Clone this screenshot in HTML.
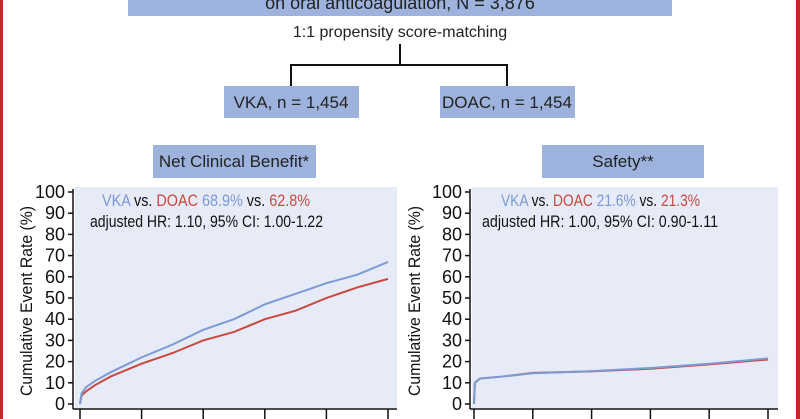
<!DOCTYPE html>
<html><head><meta charset="utf-8"><style>
body{margin:0;width:800px;height:419px;overflow:hidden;background:#fff;font-family:"Liberation Sans",sans-serif}
svg{display:block}
</style></head><body>
<svg width="800" height="419">
<rect x="0" y="0" width="3" height="419" fill="#c0272d"/>
<rect x="796" y="0" width="4" height="419" fill="#c0272d"/>
<g>
<rect x="128" y="-10" width="544" height="26" fill="#9db3de"/>
<text x="400" y="9" font-size="18" text-anchor="middle" fill="#222">on oral anticoagulation, N = 3,876</text>
<text x="400" y="37" font-size="16" text-anchor="middle" fill="#222">1:1 propensity score-matching</text>
<path d="M400 44V65M291 65H507M291 64V86M507 64V86" stroke="#111" stroke-width="2" fill="none"/>
<rect x="224" y="86" width="135" height="32" fill="#9db3de"/>
<text x="291" y="108" font-size="17" text-anchor="middle" fill="#222">VKA, n = 1,454</text>
<rect x="440" y="86" width="135" height="32" fill="#9db3de"/>
<text x="507" y="108" font-size="17" text-anchor="middle" fill="#222">DOAC, n = 1,454</text>
<rect x="153" y="145" width="163" height="33" fill="#9db3de"/>
<text x="234" y="167" font-size="17" text-anchor="middle" fill="#222">Net Clinical Benefit*</text>
<rect x="542" y="145" width="162" height="33" fill="#9db3de"/>
<text x="623" y="167" font-size="17" text-anchor="middle" fill="#222">Safety**</text>
</g>
<g id="charts"></g>
</svg>
<script>
const yTicks=[0,10,20,30,40,50,60,70,80,90,100];
const xTickCount=6;
const netTime=[0,0.005,0.02,0.05,0.1,0.2,0.3,0.4,0.5,0.6,0.7,0.8,0.9,1];
const netVKA=[0,5,8,11,15,22,28,35,40,47,52,57,61,67];
const netDOAC=[0,4,6,9,13,19,24,30,34,40,44,50,55,59];
const safeTime=[0,0.003,0.02,0.1,0.2,0.4,0.6,0.8,1];
const safeVKA=[0,10,12,13,14.5,15.5,17,19,21.5];
const safeDOAC=[0,10,12,13,14.7,15.4,16.6,18.7,21];
const NS="http://www.w3.org/2000/svg";
const root=document.getElementById('charts');
function mk(tag,attrs,parent){const e=document.createElementNS(NS,tag);for(const k in attrs)e.setAttribute(k,attrs[k]);parent.appendChild(e);return e;}
function chart(o){
 const g=mk('g',{},root);
 
 
 const y=v=>404-v*2.12, x=t=>o.x0+t*(o.x1-o.x0);
 const bg=mk('rect',{x:o.ax+2,y:187,width:o.bgR-o.ax-2,height:221,fill:'#e7ebf7'},g);
 
 
 const ax=mk('line',{x1:o.ax,x2:o.ax,y1:189,y2:409,stroke:'#111','stroke-width':1.5},g);
 
 
 yTicks.forEach(v=>{
  const t=mk('line',{x1:o.ax-5,x2:o.ax,y1:y(v),y2:y(v),stroke:'#111','stroke-width':1.5},g);
  
  
  const l=mk('text',{x:o.ax-8,y:y(v)+6,'font-size':18,'text-anchor':'end',fill:'#111'},g);
  l.textContent=v;
  
  
 });
 for(let i=0;i<xTickCount;i++){
  const t=mk('line',{x1:x(i/(xTickCount-1)),x2:x(i/(xTickCount-1)),y1:409,y2:419,stroke:'#111','stroke-width':1.5},g);
  
  
 }
 const xa=mk('line',{x1:o.ax,x2:o.bgR,y1:409,y2:409,stroke:'#111','stroke-width':1.5},g);
 
 
 const yl=mk('text',{transform:`translate(${o.ylx},301) rotate(-90)`,'font-size':17,'text-anchor':'middle',fill:'#111',textLength:190,lengthAdjust:'spacingAndGlyphs'},g);
 yl.textContent='Cumulative Event Rate (%)';
 
 
 [[o.doac,'#c9483f','doac-line'],[o.vka,'#7b9ad6','vka-line']].forEach(([vals,c,n])=>{
  const p=mk('polyline',{points:o.time.map((t,i)=>x(t)+','+y(vals[i])).join(' '),fill:'none',stroke:c,'stroke-width':2},g);
  
  
 });
 const t1=mk('text',{x:o.t1x,y:206,'font-size':17,textLength:o.t1w,lengthAdjust:'spacingAndGlyphs'},g);
 t1.innerHTML=`<tspan fill="#7b9ad6">VKA</tspan><tspan fill="#111"> vs. </tspan><tspan fill="#c9483f">DOAC</tspan><tspan fill="#7b9ad6"> ${o.p1}</tspan><tspan fill="#111"> vs. </tspan><tspan fill="#c9483f">${o.p2}</tspan>`;
 
 
 const t2=mk('text',{x:o.t2x,y:227,'font-size':17,fill:'#111',textLength:o.t2w,lengthAdjust:'spacingAndGlyphs'},g);
 t2.textContent=o.hr;
 
 
}
chart({name:'net-benefit-chart',ax:73,bgR:397,x0:80,x1:388,ylx:32,time:netTime,vka:netVKA,doac:netDOAC,t1x:102,t1w:208,t2x:90,t2w:233,p1:'68.9%',p2:'62.8%',hr:'adjusted HR: 1.10, 95% CI: 1.00-1.22'});
chart({name:'safety-chart',ax:470,bgR:778,x0:474,x1:768,ylx:420,time:safeTime,vka:safeVKA,doac:safeDOAC,t1x:501,t1w:199,t2x:482,t2w:236,p1:'21.6%',p2:'21.3%',hr:'adjusted HR: 1.00, 95% CI: 0.90-1.11'});
</script>
</body></html>
